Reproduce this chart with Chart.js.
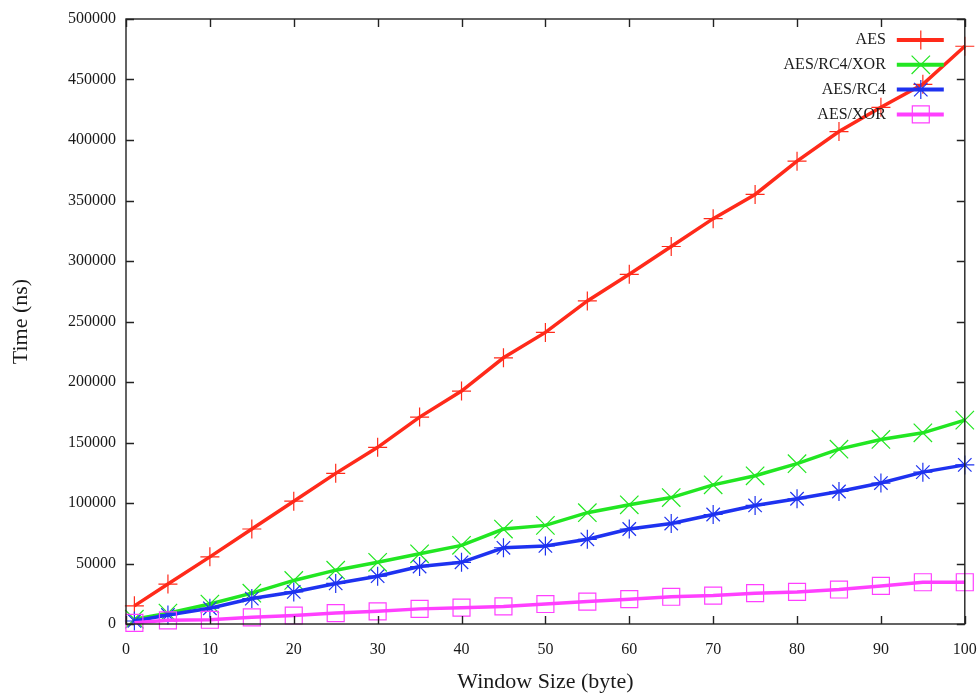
<!DOCTYPE html>
<html>
<head>
<meta charset="utf-8">
<title>Window size vs time</title>
<script src="https://cdn.jsdelivr.net/npm/chart.js@4.4.0/dist/chart.umd.min.js"></script>
<style>
    html, body { margin: 0; padding: 0; background: #fff; }
    #wrap { width: 979px; height: 695px; }
</style>
</head>
<body>
<div id="wrap"><canvas id="timeChart" width="979" height="695"></canvas></div>
<script>
// window sizes (bytes) on the x axis
const windowSizes = [1, 5, 10, 15, 20, 25, 30, 35, 40, 45, 50, 55, 60, 65, 70, 75, 80, 85, 90, 95, 100];

// times in ns
const aesTimes = [15000, 33000, 55500, 78500, 101500, 124500, 146000, 171000, 192500, 220000, 241000,
    267000, 289000, 312000, 335000, 355000, 382500, 407000, 427000, 446000, 477500];
const aesRc4XorTimes = [4000, 9000, 16500, 25500, 36000, 44500, 51000, 58000, 65000, 78500, 81500,
    92000, 98500, 104500, 115000, 122500, 132500, 144500, 152500, 158000, 168500];
const aesRc4Times = [2500, 7500, 13000, 21000, 26500, 33500, 39500, 47500, 51000, 63000, 64500,
    70000, 78500, 83000, 90500, 98000, 103500, 109500, 116500, 125500, 131500];
const aesXorTimes = [1000, 3000, 3500, 5500, 7000, 9000, 10500, 12500, 13500, 14500, 16500,
    18500, 20500, 22500, 23500, 25500, 26500, 28500, 31500, 34500, 34500];

const seriesNames = ['AES', 'AES/RC4/XOR', 'AES/RC4', 'AES/XOR'];
const yTicks = [0, 50000, 100000, 150000, 200000, 250000, 300000, 350000, 400000, 450000, 500000];
const xTicks = [0, 10, 20, 30, 40, 50, 60, 70, 80, 90, 100];

const serif = "'Liberation Serif', 'Times New Roman', serif";
const ink = '#1a1a1a';

const toPoints = values => values.map((v, i) => ({ x: windowSizes[i], y: v }));

const makeSeries = (label, values, color, style, radius, order) => ({
    label: label,
    data: toPoints(values),
    borderColor: color,
    backgroundColor: 'rgba(0,0,0,0)',
    borderWidth: 3.5,
    pointStyle: style,
    pointRadius: radius,
    pointHoverRadius: radius,
    pointBorderColor: color,
    pointBackgroundColor: 'rgba(0,0,0,0)',
    pointBorderWidth: 1.2,
    tension: 0,
    clip: false,
    order: order
});

// box round the plot, ticks pointing inwards on all four sides (gnuplot look)
const frameTicks = {
    id: 'frameTicks',
    afterDraw(chart) {
        const { ctx, chartArea: a, scales } = chart;
        const len = 8;
        ctx.save();
        ctx.strokeStyle = '#222';
        ctx.lineWidth = 1.4;
        ctx.beginPath();
        xTicks.forEach(t => {
            const px = Math.round(scales.x.getPixelForValue(t)) + 0.5;
            ctx.moveTo(px, a.bottom); ctx.lineTo(px, a.bottom - len);
            ctx.moveTo(px, a.top); ctx.lineTo(px, a.top + len);
        });
        yTicks.forEach(t => {
            const py = Math.round(scales.y.getPixelForValue(t)) + 0.5;
            ctx.moveTo(a.left, py); ctx.lineTo(a.left + len, py);
            ctx.moveTo(a.right, py); ctx.lineTo(a.right - len, py);
        });
        ctx.stroke();
        ctx.strokeRect(a.left, a.top, a.right - a.left, a.bottom - a.top);
        ctx.restore();
    }
};

// legend in the top right corner: text right aligned, then line sample with marker
const cornerLegend = {
    id: 'cornerLegend',
    afterDatasetsDraw(chart) {
        const { ctx, chartArea: a } = chart;
        const helpers = Chart.helpers;
        ctx.save();
        chart.data.datasets.forEach((ds, i) => {
            const y = a.top + 21 + i * 24.8;
            ctx.font = '16px ' + serif;
            ctx.fillStyle = ink;
            ctx.textAlign = 'right';
            ctx.textBaseline = 'middle';
            ctx.fillText(ds.label, a.right - 79, y);

            ctx.strokeStyle = ds.borderColor;
            ctx.lineWidth = 4;
            ctx.beginPath();
            ctx.moveTo(a.right - 68, y);
            ctx.lineTo(a.right - 21, y);
            ctx.stroke();

            if (helpers && helpers.drawPoint) {
                ctx.strokeStyle = ds.pointBorderColor;
                ctx.fillStyle = 'rgba(0,0,0,0)';
                ctx.lineWidth = ds.pointBorderWidth;
                helpers.drawPoint(ctx, {
                    pointStyle: ds.pointStyle,
                    radius: ds.pointRadius,
                    rotation: 0,
                    borderWidth: ds.pointBorderWidth
                }, a.right - 44, y);
            }
        });
        ctx.restore();
    }
};

const chart = new Chart(document.getElementById('timeChart').getContext('2d'), {
    type: 'line',
    data: {
        datasets: [
            makeSeries(seriesNames[0], aesTimes, '#ff2a1a', 'cross', 9.5, 3),
            makeSeries(seriesNames[1], aesRc4XorTimes, '#22e622', 'crossRot', 13, 2),
            makeSeries(seriesNames[2], aesRc4Times, '#1e32f0', 'star', 9.5, 1),
            makeSeries(seriesNames[3], aesXorTimes, '#ff40ff', 'rect', 12, 0)
        ]
    },
    options: {
        responsive: false,
        animation: false,
        events: [],
        layout: { padding: { top: 19, right: 13, bottom: 0, left: 0 } },
        plugins: {
            legend: { display: false },
            tooltip: { enabled: false }
        },
        scales: {
            x: {
                type: 'linear',
                min: 0,
                max: 100,
                afterBuildTicks: scale => { scale.ticks = xTicks.map(v => ({ value: v })); },
                afterFit: scale => {
                    scale.height = 71;
                    scale.paddingLeft = 0;
                    scale.paddingRight = 0;
                },
                grid: { display: false, drawTicks: false },
                border: { display: false },
                ticks: {
                    padding: 16,
                    maxRotation: 0,
                    color: ink,
                    font: { family: serif, size: 16 }
                },
                title: {
                    display: true,
                    text: 'Window Size (byte)',
                    color: ink,
                    font: { family: serif, size: 22 },
                    padding: { top: 0, bottom: 0 }
                }
            },
            y: {
                type: 'linear',
                min: 0,
                max: 500000,
                afterBuildTicks: scale => { scale.ticks = yTicks.map(v => ({ value: v })); },
                afterFit: scale => {
                    scale.width = 126;
                    scale.paddingTop = 0;
                    scale.paddingBottom = 0;
                },
                grid: { display: false, drawTicks: false },
                border: { display: false },
                ticks: {
                    padding: 10,
                    color: ink,
                    font: { family: serif, size: 16 },
                    callback: v => String(v)
                },
                title: {
                    display: true,
                    text: 'Time (ns)',
                    color: ink,
                    font: { family: serif, size: 22 },
                    padding: { top: 8, bottom: 0 }
                }
            }
        }
    },
    plugins: [frameTicks, cornerLegend]
});
</script>
</body>
</html>
